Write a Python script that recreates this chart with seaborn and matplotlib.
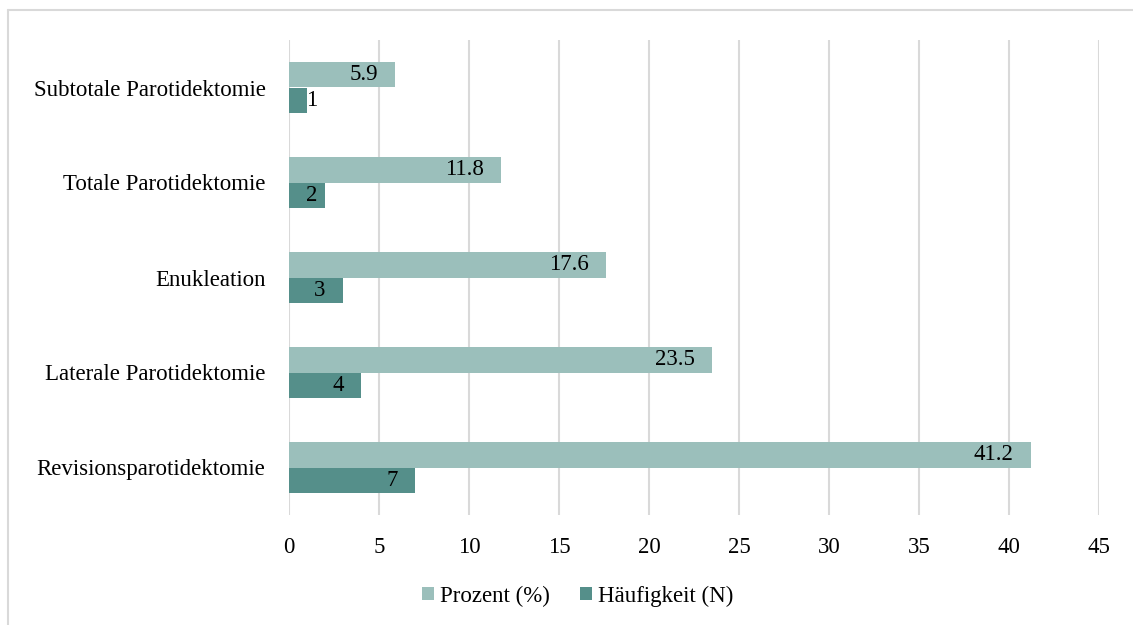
import matplotlib
matplotlib.use("Agg")
import matplotlib.pyplot as plt
from matplotlib.lines import Line2D
from matplotlib.patches import Patch
import seaborn as sns
import pandas as pd

# Operation types and their shares
categories = [
    "Subtotale Parotidektomie",
    "Totale Parotidektomie",
    "Enukleation",
    "Laterale Parotidektomie",
    "Revisionsparotidektomie",
]
prozent = [5.9, 11.8, 17.6, 23.5, 41.2]
haeufigkeit = [1, 2, 3, 4, 7]
series_names = ["Prozent (%)", "Häufigkeit (N)"]
x_ticks = [0, 5, 10, 15, 20, 25, 30, 35, 40, 45]

light = "#9BBFBB"
dark = "#558F8A"
grid_col = "#D9D9D9"
fs = 16.5

sns.set_theme(style="white")
plt.rcParams["font.family"] = ["Liberation Serif", "DejaVu Serif"]
plt.rcParams["text.color"] = "black"
plt.rcParams["xtick.color"] = "black"
plt.rcParams["ytick.color"] = "black"

df = pd.DataFrame({
    "Kategorie": categories * 2,
    "Wert": prozent + haeufigkeit,
    "Serie": [series_names[0]] * len(categories) + [series_names[1]] * len(categories),
})

fig = plt.figure(figsize=(11.33, 6.25), dpi=100)
ax = fig.add_axes([289 / 1133, 1 - 515 / 625, 810 / 1133, 475 / 625])

sns.barplot(
    data=df, y="Kategorie", x="Wert", hue="Serie",
    order=categories, hue_order=series_names,
    palette=[light, dark], orient="h", width=0.545, gap=0,
    saturation=1, errorbar=None, legend=False, linewidth=0, ax=ax,
)

ax.set_xlim(0, 45)
ax.set_xticks(x_ticks)
ax.set_xlabel("")
ax.set_ylabel("")
for s in ax.spines.values():
    s.set_visible(False)
ax.grid(axis="x", color=grid_col, linewidth=1.5)
ax.grid(axis="y", visible=False)
ax.set_axisbelow(True)
ax.tick_params(axis="x", length=0, pad=16, labelsize=fs)
ax.tick_params(axis="y", length=0, pad=17, labelsize=fs)

# Value labels at the inner end of each bar; short bars keep the label near the axis
px_per_unit = 810 / 45
for container, vals in zip(ax.containers, [prozent, haeufigkeit]):
    for bar, v in zip(container, vals):
        yc = bar.get_y() + bar.get_height() / 2
        txt = f"{v:.1f}" if isinstance(v, float) else f"{v}"
        if v * px_per_unit < 45:
            ax.annotate(txt, (0, yc), xytext=(12, 0), textcoords="offset points",
                        ha="left", va="center", fontsize=fs, color="black")
        else:
            ax.annotate(txt, (v, yc), xytext=(-12.5, 0), textcoords="offset points",
                        ha="right", va="center", fontsize=fs, color="black")

handles = [Patch(facecolor=light, edgecolor="none"), Patch(facecolor=dark, edgecolor="none")]
fig.legend(handles, series_names, loc="center", bbox_to_anchor=(0.5097, 1 - 596 / 625),
           ncol=2, frameon=False, fontsize=fs, handlelength=0.55, handleheight=0.55,
           handletextpad=0.25, columnspacing=1.3)

# Chart-area frame
fig.add_artist(Line2D([7.5 / 1133, 1], [1 - 9.5 / 625] * 2, transform=fig.transFigure,
                      color=grid_col, linewidth=1.5))
fig.add_artist(Line2D([7.5 / 1133] * 2, [0, 1 - 9.5 / 625], transform=fig.transFigure,
                      color=grid_col, linewidth=1.5))

fig.savefig("out.png", dpi=100, facecolor="white")
